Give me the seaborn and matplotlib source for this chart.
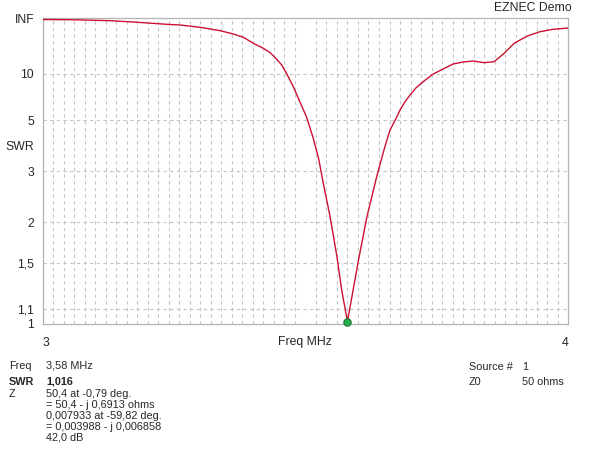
import numpy as np
import pandas as pd
import matplotlib
matplotlib.use("Agg")
import matplotlib.pyplot as plt
from matplotlib.ticker import MultipleLocator
import seaborn as sns

# SWR sweep (MHz, SWR)
freq_mhz = [3.000, 3.064, 3.128, 3.173, 3.236, 3.262, 3.300, 3.338, 3.363, 3.382,
            3.401, 3.420, 3.433, 3.445, 3.455, 3.464, 3.477, 3.488, 3.502, 3.515,
            3.525, 3.534, 3.547, 3.560, 3.569, 3.580, 3.601, 3.617, 3.636, 3.651,
            3.661, 3.674, 3.680, 3.689, 3.699, 3.710, 3.724, 3.743, 3.762, 3.781,
            3.800, 3.819, 3.840, 3.859, 3.878, 3.897, 3.921, 3.946, 3.971, 4.000]
swr = [500, 406, 254, 164, 100.9, 90.2, 66.9, 48.3, 37.9, 31.2,
       23.46, 19.38, 16.77, 14.02, 12.09, 10.12, 7.94, 6.48, 5.21, 4.09,
       3.37, 2.71, 2.08, 1.565, 1.250, 1.016, 1.530, 2.08, 2.882, 3.751,
       4.474, 5.21, 5.667, 6.30, 6.971, 7.77, 8.644, 9.977, 11.06, 12.38,
       12.99, 13.32, 12.77, 13.09, 16.47, 23.46, 32.97, 44.6, 54.6, 62.0]

# marker at the selected frequency
sel_freq = 3.58
sel_swr = 1.016

# SWR axis labels
swr_ticks = [1, 1.1, 1.5, 2, 3, 5, 10, np.inf]
swr_tick_labels = ["1", "1,1", "1,5", "2", "3", "5", "10", "INF"]
x_ticks = [3, 3.5, 4]
x_tick_labels = ["3", "Freq MHz", "4"]

info_left = [("Freq", "3,58 MHz", "normal"),
             ("SWR", "1,016", "bold"),
             ("Z", "50,4 at -0,79 deg.", "normal"),
             ("", "= 50,4 - j 0,6913 ohms", "normal"),
             ("", "0,007933 at -59,82 deg.", "normal"),
             ("", "= 0,003988 - j 0,006858", "normal"),
             ("", "42,0 dB", "normal")]
info_right = [("Source #", "1"), ("Z0", "50 ohms")]


def gamma(s):
    # EZNEC draws SWR on a reflection coefficient scale
    s = np.asarray(s, dtype=float)
    return np.where(np.isinf(s), 1.0, (s - 1) / (s + 1))


sns.set_style("white")
plt.rcParams['font.family'] = ['Liberation Sans', 'DejaVu Sans']
plt.rcParams['font.size'] = 8.8

df = pd.DataFrame({"freq": freq_mhz, "gamma": gamma(swr)})

fig = plt.figure(figsize=(6, 4.66), dpi=100)
W, H = 600, 466
ax = fig.add_axes([42.5 / W, 1 - 324 / H, 525.8 / W, 305.7 / H])

sns.lineplot(data=df, x="freq", y="gamma", ax=ax, color="#cc1030", lw=1.0,
             estimator=None, sort=False, zorder=3)
sns.scatterplot(x=[sel_freq], y=gamma([sel_swr]), ax=ax, color="#22b04a",
                edgecolor="#1a6e30", s=28, linewidth=0.8, zorder=4, clip_on=False)

ax.set_xlim(3, 4)
ax.set_ylim(0, 1)
ax.set_xlabel("")
ax.set_ylabel("")

ax.set_yticks(gamma(swr_ticks))
ax.set_yticklabels(swr_tick_labels)
ax.set_xticks(x_ticks)
ax.set_xticklabels(x_tick_labels)
ax.xaxis.set_minor_locator(MultipleLocator(0.02))
labels = ax.get_xticklabels()
labels[0].set_horizontalalignment("left")
labels[-1].set_horizontalalignment("right")

ax.tick_params(axis="x", which="both", length=0, pad=9)
ax.tick_params(axis="y", length=0, pad=6)

ax.grid(False)
ax.grid(True, axis="y", which="major", color="#c4c4c4", ls=(0, (3, 3)), lw=0.8)
ax.grid(True, axis="x", which="minor", color="#c4c4c4", ls=(0, (3, 3)), lw=0.8)

for sp in ax.spines.values():
    sp.set_color("#b4b4b4")
    sp.set_linewidth(0.9)

fig.text(5 / W, 1 - 150 / H, "SWR", ha="left", va="baseline")
fig.text(572 / W, 1 - 11 / H, "EZNEC Demo", ha="right", va="baseline")

# text block under the plot, baselines in pixels
fs_info = 7.8
rows_y = [369, 385, 397, 408, 419, 430, 441]
for (key, val, wt), yy in zip(info_left, rows_y):
    fig.text(9 / W, 1 - yy / H, key, ha="left", va="baseline", fontweight=wt, fontsize=fs_info)
    fig.text(46 / W, 1 - yy / H, val, ha="left", va="baseline", fontweight=wt, fontsize=fs_info)

for (key, val), yy in zip(info_right, [370, 385]):
    fig.text(469 / W, 1 - yy / H, key, ha="left", va="baseline", fontsize=fs_info)
    fig.text(522.5 / W, 1 - yy / H, val, ha="left", va="baseline", fontsize=fs_info)

fig.savefig("out.png", dpi=100)
